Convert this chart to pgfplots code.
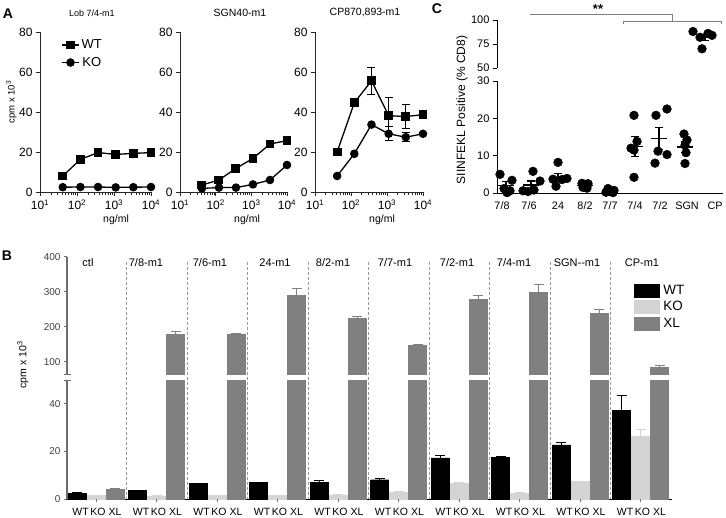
\documentclass[border=0pt]{standalone}
\usepackage{pgfplots}
\usepackage{pgfplotstable}
\pgfplotsset{compat=1.18}
\usepackage{fontspec}
\setmainfont{Liberation Sans}
\definecolor{kog}{HTML}{D4D4D4}
\definecolor{xlg}{HTML}{808080}
\definecolor{axg}{HTML}{6E6E6E}
\newcommand{\fs}[1]{\fontsize{#1}{#1}\selectfont}

\pgfplotstableread{
x y e
0 2.4 0.2
60.5 3.5 0.2
121 6.6 0.1
181.5 6.9 0.2
242 7.0 0.6
302.5 8.1 0.5
363 17.3 1.1
423.5 17.5 0.3
484 22.7 1.0
544.5 37.2 6.3
}\Bwt
\pgfplotstableread{
x y e
19 1.4 0.1
79.5 1.3 0.1
140 1.5 0.1
200.5 1.5 0.1
261 1.7 0.1
321.5 2.9 0.1
382 6.6 0.2
442.5 2.5 0.1
503 7.3 0.1
563.5 26.5 2.8
}\Bko
\pgfplotstableread{
x y e
38 4.2 0.3
98.5 178 8
159 180 2
219.5 290 19
280 224 5.5
340.5 146 3.5
401 279 11.5
461.5 298 23
522 238 11.5
582.5 83 5.6
}\Bxl
\pgfplotstableread{
x y
500 5.0
512 3.4
504 1.2
507 0.1
510 0.6
533 5.8
540 3.2
523 0.6
528 0.4
534 0.8
558 8.2
553 3.7
562 3.6
567 3.9
556 1.8
582 2.6
588 2.5
585 2.3
583 1.5
587 1.3
608 1.2
614 0.7
610 0.4
606 0.2
613 0.1
634 20.8
637 13.8
631 12.0
634 11.5
634 4.2
656 20.8
667 22.5
658 11.2
667 10.3
655 8.0
684 15.8
687 14.2
685 12.8
686 10.8
685 7.9
}\Cpts
\pgfplotstableread{
x y e
506 2.06 0.93
531 2.16 1.04
558 4.24 1.06
585 2.04 0.27
610 0.52 0.2
635 12.46 2.65
659 14.56 2.95
685 12.3 1.37
}\Cmean
\pgfplotstableread{
x y
693 88
708 86
700 82
712 84
702 70
}\Ccp
\pgfplotstableread{
x y e
705 82 3.16
}\Ccpmean

\begin{document}
\begin{tikzpicture}
\useasboundingbox (0pt,0pt) rectangle (726pt,-518pt);

% ---------------- Panel A ----------------
\begin{axis}[at={(40pt,-192pt)}, anchor=south west, scale only axis, width=111pt, height=160pt,
    xmode=log, xmin=10, xmax=10000, ymin=0, ymax=80,
    /pgf/number format/assume math mode=true,
    axis lines*=left, axis line style={line width=0.9pt, black!85},
    xtick={10,100,1000,10000},
    xticklabels={10\textsuperscript{1},10\textsuperscript{2},10\textsuperscript{3},10\textsuperscript{4}},
    ytick={0,20,40,60,80}, minor xtick={},
    tick align=outside, major tick length=4pt,
    every tick/.style={line width=0.9pt, black!85},
    tick label style={font=\fs{12}}, clip=false,
  legend style={at={(axis description cs:0.19,0.965)}, anchor=north west, draw=none, fill=none,
    font=\fs{13}, row sep=3pt, inner sep=0pt, nodes={inner sep=2pt}}]
\addplot[black, line width=1.3pt, mark=square*, mark size=3.8pt] coordinates {(41.15,8) (123.5,16.3) (370.4,19.7) (1111,18.8) (3333,19.3) (10000,19.7)};
\addplot[black, line width=1.3pt, mark=*, mark size=3.6pt] coordinates {(41.15,2.4) (123.5,2.5) (370.4,2.5) (1111,2.3) (3333,2.4) (10000,2.5)};
\legend{WT,KO}
\end{axis}

\begin{axis}[at={(180pt,-192pt)}, anchor=south west, scale only axis, width=107pt, height=160pt,
    xmode=log, xmin=10, xmax=10000, ymin=0, ymax=80,
    /pgf/number format/assume math mode=true,
    axis lines*=left, axis line style={line width=0.9pt, black!85},
    xtick={10,100,1000,10000},
    xticklabels={10\textsuperscript{1},10\textsuperscript{2},10\textsuperscript{3},10\textsuperscript{4}},
    ytick={0,20,40,60,80}, minor xtick={},
    tick align=outside, major tick length=4pt,
    every tick/.style={line width=0.9pt, black!85},
    tick label style={font=\fs{12}}, clip=false]
\addplot[black, line width=1.3pt, mark=square*, mark size=3.8pt] coordinates {(41.15,3.5) (123.5,6) (370.4,11.8) (1111,16.8) (3333,24) (10000,25.7)};
\addplot[black, line width=1.3pt, mark=*, mark size=3.6pt] coordinates {(41.15,1.8) (123.5,2.2) (370.4,2.2) (1111,3.8) (3333,6) (10000,13.5)};
\end{axis}

\begin{axis}[at={(315pt,-192pt)}, anchor=south west, scale only axis, width=108pt, height=160pt,
    xmode=log, xmin=10, xmax=10000, ymin=0, ymax=80,
    /pgf/number format/assume math mode=true,
    axis lines*=left, axis line style={line width=0.9pt, black!85},
    xtick={10,100,1000,10000},
    xticklabels={10\textsuperscript{1},10\textsuperscript{2},10\textsuperscript{3},10\textsuperscript{4}},
    ytick={0,20,40,60,80}, minor xtick={},
    tick align=outside, major tick length=4pt,
    every tick/.style={line width=0.9pt, black!85},
    tick label style={font=\fs{12}}, clip=false]
\addplot[black, only marks, mark=none, error bars/.cd, y dir=both, y explicit,
    error bar style={black, line width=1.3pt}, error mark options={rotate=90, black, mark size=4pt, line width=1.3pt}]
  coordinates {(370.4,55.6) +- (0,6.8) (1111,38.2) +- (0,9.1) (3333,37.7) +- (0,6.0)};
\addplot[black, only marks, mark=none, error bars/.cd, y dir=both, y explicit,
    error bar style={black, line width=1.3pt}, error mark options={rotate=90, black, mark size=4pt, line width=1.3pt}]
  coordinates {(1111,29.1) +- (0,3.5) (3333,27.4) +- (0,2.3)};
\addplot[black, line width=1.3pt, mark=square*, mark size=3.8pt] coordinates {(41.15,20) (123.5,44.6) (370.4,55.6) (1111,38.2) (3333,37.7) (10000,38.7)};
\addplot[black, line width=1.3pt, mark=*, mark size=3.6pt] coordinates {(41.15,8) (123.5,19.1) (370.4,33.7) (1111,29.1) (3333,27.4) (10000,29.1)};
\end{axis}

\node[font=\fs{9}] at (92pt,-13pt) {Lob 7/4-m1};
\node[font=\fs{10.5}] at (240pt,-13pt) {SGN40-m1};
\node[font=\fs{10.5}] at (365pt,-13pt) {CP870,893-m1};
\node[font=\fs{10.5}] at (116pt,-220pt) {ng/ml};
\node[font=\fs{10.5}] at (247pt,-220pt) {ng/ml};
\node[font=\fs{10.5}] at (382pt,-220pt) {ng/ml};
\node[font=\fs{9.5}, rotate=90] at (11.5pt,-102pt) {cpm x 10\textsuperscript{3}};

% ---------------- Panel B ----------------
\begin{axis}[at={(67pt,-375pt)}, anchor=south west, scale only axis, width=605pt, height=118pt,
  /pgf/number format/assume math mode=true,
  xmin=-10, xmax=595, ymin=62, ymax=400,
  axis x line=none, axis y line*=left,
  y axis line style={axg, line width=1.6pt},
  ytick={100,200,300,400}, extra y ticks={62}, extra y tick labels={},
  extra y tick style={tick align=center, major tick length=7pt},
  tick align=outside, major tick length=3pt, every tick/.style={axg, line width=1pt},
  yticklabel style={font=\fs{10}, text=black!75},
  legend style={at={(axis description cs:0.937,0.775)}, anchor=north west, draw=none, fill=none,
    font=\fs{13.5}, row sep=3pt, inner sep=0pt, nodes={inner sep=1pt},
    /tikz/every odd column/.style={column sep=3pt}},
  legend cell align=left]
\addlegendimage{legend image code/.code={\fill[black] (0pt,-6.5pt) rectangle (25pt,6.5pt);}}
\addlegendentry{WT}
\addlegendimage{legend image code/.code={\fill[kog] (0pt,-6.5pt) rectangle (25pt,6.5pt);}}
\addlegendentry{KO}
\addlegendimage{legend image code/.code={\fill[xlg] (0pt,-6.5pt) rectangle (25pt,6.5pt);}}
\addlegendentry{XL}
\addplot[ybar, bar width=18, fill=xlg, draw=xlg, forget plot, restrict y to domain=50:1000,
  error bars/.cd, y dir=plus, y explicit,
  error bar style={xlg, line width=1pt}, error mark options={rotate=90, xlg, mark size=5pt, line width=1pt}]
  table[x=x, y=y, y error=e] {\Bxl};
\pgfplotsinvokeforeach{0,...,8}{\coordinate (st#1) at (axis cs:{49.5+60.5*#1},387);}
\node[font=\fs{11}] at (axis cs:11,383) {ctl};
\node[font=\fs{11}] at (axis cs:69,383) {7/8-m1};
\node[font=\fs{11}] at (axis cs:133,383) {7/6-m1};
\node[font=\fs{11}] at (axis cs:198,383) {24-m1};
\node[font=\fs{11}] at (axis cs:256,383) {8/2-m1};
\node[font=\fs{11}] at (axis cs:318,383) {7/7-m1};
\node[font=\fs{11}] at (axis cs:380,383) {7/2-m1};
\node[font=\fs{11}] at (axis cs:437,383) {7/4-m1};
\node[font=\fs{11}] at (axis cs:500,383) {SGN-{}-m1};
\node[font=\fs{11}] at (axis cs:565,383) {CP-m1};
\end{axis}

\begin{axis}[at={(67pt,-499pt)}, anchor=south west, scale only axis, width=605pt, height=119pt,
  /pgf/number format/assume math mode=true,
  xmin=-10, xmax=595, ymin=0, ymax=50,
  axis lines*=left,
  x axis line style={black, line width=1pt},
  y axis line style={axg, line width=1.6pt},
  ytick={0,20,40}, extra y ticks={50}, extra y tick labels={},
  extra y tick style={tick align=center, major tick length=7pt},
  tick align=outside, major tick length=3pt, every tick/.style={axg, line width=1pt},
  yticklabel style={font=\fs{10}, text=black!75},
  xtick={3.5,21,38,64,81.5,98.5,124.5,142,159,185,202.5,219.5,245.5,263,280,306,323.5,340.5,366.5,384,401,427,444.5,461.5,487.5,505,522,548,565.5,582.5},
  xticklabels={WT,KO,XL,WT,KO,XL,WT,KO,XL,WT,KO,XL,WT,KO,XL,WT,KO,XL,WT,KO,XL,WT,KO,XL,WT,KO,XL,WT,KO,XL},
  xtick style={draw=none},
  xticklabel style={font=\fs{10.5}, yshift=-3pt, inner xsep=0pt}]
\addplot[ybar, bar width=18, fill=xlg, draw=xlg,
  error bars/.cd, y dir=plus, y explicit,
  error bar style={xlg, line width=1pt}, error mark options={rotate=90, xlg, mark size=5pt, line width=1pt}]
  table[x=x, y=y, y error=e] {\Bxl};
\addplot[ybar, bar width=18, fill=black, draw=black,
  error bars/.cd, y dir=plus, y explicit,
  error bar style={black, line width=1pt}, error mark options={rotate=90, black, mark size=5pt, line width=1pt}]
  table[x=x, y=y, y error=e] {\Bwt};
\addplot[ybar, bar width=18, fill=kog, draw=kog,
  error bars/.cd, y dir=plus, y explicit,
  error bar style={kog, line width=1pt}, error mark options={rotate=90, kog, mark size=5pt, line width=1pt}]
  table[x=x, y=y, y error=e] {\Bko};
\pgfplotsinvokeforeach{0,...,8}{\coordinate (sb#1) at (axis cs:{49.5+60.5*#1},0);}
\pgfplotsinvokeforeach{0,...,9}{\coordinate (kt#1) at (axis cs:{19+60.5*#1},0);}
\end{axis}
\foreach \k in {0,...,8} {\draw[gray!80, line width=0.8pt, dash pattern=on 3pt off 2pt] (st\k) -- (sb\k);}
\foreach \k in {0,...,9} {\draw[axg, line width=1pt] (kt\k) -- ++(0,-3.5pt);}
\node[font=\fs{10.5}, rotate=90] at (23pt,-365pt) {cpm x 10\textsuperscript{3}};

% ---------------- Panel C ----------------
\begin{axis}[at={(497pt,-68pt)}, anchor=south west, scale only axis, width=226pt, height=48pt,
  /pgf/number format/assume math mode=true,
  xmin=497, xmax=723, ymin=50, ymax=100,
  axis x line=none, axis y line*=left,
  axis line style={black, line width=0.9pt},
  ytick={50,75,100}, tick align=outside, major tick length=4pt,
  every tick/.style={black, line width=0.9pt},
  yticklabel style={font=\fs{11}},
  clip=false]
\addplot[only marks, mark=*, mark size=4.4pt, black] table[x=x,y=y] {\Ccp};
\addplot[only marks, black, mark=-, mark size=8pt, mark options={line width=1.3pt},
  error bars/.cd, y dir=both, y explicit,
  error bar style={black, line width=1.3pt}, error mark options={rotate=90, black, mark size=4pt, line width=1.3pt}]
  table[x=x,y=y,y error=e] {\Ccpmean};
\draw[gray, line width=0.9pt] (axis cs:530,106.25) -- (axis cs:672,106.25) -- (axis cs:672,99);
\draw[gray, line width=0.9pt] (axis cs:623,96) -- (axis cs:623,99) -- (axis cs:721,99) -- (axis cs:721,96);
\node[font=\bfseries\fs{13}] at (axis cs:598,111) {**};
\end{axis}

\begin{axis}[at={(497pt,-193pt)}, anchor=south west, scale only axis, width=226pt, height=112pt,
  /pgf/number format/assume math mode=true,
  xmin=497, xmax=723, ymin=0, ymax=30,
  axis lines*=left,
  axis line style={black, line width=0.9pt},
  ytick={0,10,20,30}, tick align=outside, major tick length=4pt,
  every tick/.style={black, line width=0.9pt},
  yticklabel style={font=\fs{11}},
  xtick={502,529,558,585,610,635,660,687,715},
  xticklabels={7/8,7/6,24,8/2,7/7,7/4,7/2,SGN,CP},
  xtick style={draw=none},
  xticklabel style={font=\fs{10.8}, yshift=-1pt}]
\addplot[only marks, mark=*, mark size=4.4pt, black] table[x=x,y=y] {\Cpts};
\addplot[only marks, black, mark=-, mark size=8pt, mark options={line width=1.3pt},
  error bars/.cd, y dir=both, y explicit,
  error bar style={black, line width=1.3pt}, error mark options={rotate=90, black, mark size=4pt, line width=1.3pt}]
  table[x=x,y=y,y error=e] {\Cmean};
\end{axis}
\node[font=\fs{12}, rotate=90] at (462pt,-110pt) {SIINFEKL Positive (\% CD8)};

% panel letters
\node[font=\bfseries\fs{14}] at (8pt,-14pt) {A};
\node[font=\bfseries\fs{14}] at (7pt,-256pt) {B};
\node[font=\bfseries\fs{14}] at (437pt,-9pt) {C};
\end{tikzpicture}
\end{document}
